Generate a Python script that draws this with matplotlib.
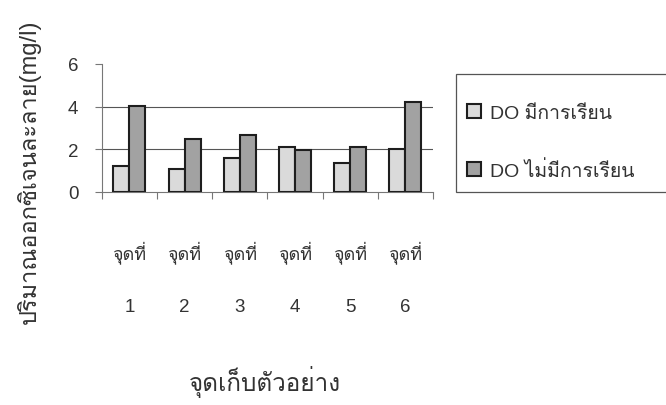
import matplotlib
matplotlib.use("Agg")
import matplotlib.pyplot as plt
from matplotlib import font_manager
from matplotlib.ft2font import FT2Font
from matplotlib.patches import Rectangle
import numpy as np

# Data
sites = ["จุดที่", "จุดที่", "จุดที่", "จุดที่", "จุดที่", "จุดที่"]
site_numbers = ["1", "2", "3", "4", "5", "6"]
do_with_class = [1.2, 1.05, 1.6, 2.1, 1.35, 2.0]
do_without_class = [4.05, 2.5, 2.65, 1.95, 2.1, 4.2]
series_names = ["DO มีการเรียน", "DO ไม่มีการเรียน"]
y_ticks = [0, 2, 4, 6]
x_title = "จุดเก็บตัวอย่าง"
y_title = "ปริมาณออกซิเจนละลาย(mg/l)"


def find_thai_family():
    seen = set()
    for f in font_manager.fontManager.ttflist:
        if f.name in seen:
            continue
        seen.add(f.name)
        try:
            cmap = FT2Font(f.fname).get_charmap()
        except Exception:
            continue
        if ord("ก") in cmap and ord("ี") in cmap:
            return f.name
    return None


thai = find_thai_family()
families = ["Liberation Sans"] + ([thai] if thai else []) + ["DejaVu Sans"]
plt.rcParams["font.family"] = families

TEXT = "#333333"
AXIS = "#777777"

fig = plt.figure(figsize=(6.66, 4.06), dpi=100)
fig.patch.set_facecolor("white")
ax = fig.add_axes([0.153, 0.525, 0.497, 0.315])

n = len(sites)
x = np.arange(n)
w = 0.29
ax.bar(x - w / 2, do_with_class, w, color="#dadada", edgecolor="#1e1e1e",
       linewidth=1.5, zorder=3, label=series_names[0])
ax.bar(x + w / 2, do_without_class, w, color="#a2a2a2", edgecolor="#1e1e1e",
       linewidth=1.5, zorder=3, label=series_names[1])

ax.set_xlim(-0.5, n - 0.5)
ax.set_ylim(0, 6)
ax.set_yticks(y_ticks)
ax.set_yticklabels([str(t) for t in y_ticks], fontsize=13.5, color=TEXT)
for g in [2, 4]:
    ax.axhline(g, color="#555555", linewidth=0.8, zorder=1)

for s in ["top", "right"]:
    ax.spines[s].set_visible(False)
ax.spines["left"].set_color(AXIS)
ax.spines["bottom"].set_color(AXIS)
ax.tick_params(axis="y", length=5, color=AXIS, pad=12)

# category boundary ticks
ax.set_xticks(np.arange(-0.5, n, 1.0))
ax.set_xticklabels([])
ax.tick_params(axis="x", length=5, color=AXIS, direction="out")

tr = ax.get_xaxis_transform()
for i in range(n):
    ax.text(x[i], -0.47, sites[i], transform=tr, ha="center", va="center",
            fontsize=13, color=TEXT)
    ax.text(x[i], -0.9, site_numbers[i], transform=tr, ha="center",
            va="center", fontsize=13.5, color=TEXT)

fig.text(0.398, 0.058, x_title, ha="center", va="center", fontsize=17.5,
         color=TEXT)
fig.text(0.043, 0.577, y_title, ha="center", va="center", rotation=90,
         fontsize=17, color=TEXT)

# legend box
fig.patches.append(Rectangle((456 / 666, 1 - 193 / 406), 0.4, 118 / 406,
                             transform=fig.transFigure, facecolor="white",
                             edgecolor="#555555", linewidth=0.9))
leg = fig.legend(loc="upper left", bbox_to_anchor=(0.686, 0.765),
                 frameon=False, fontsize=14, handlelength=0.75,
                 handleheight=0.75, labelspacing=1.95, borderpad=0.0,
                 handletextpad=0.45)
for t in leg.get_texts():
    t.set_color(TEXT)

fig.savefig("out.png", dpi=100, facecolor="white")
